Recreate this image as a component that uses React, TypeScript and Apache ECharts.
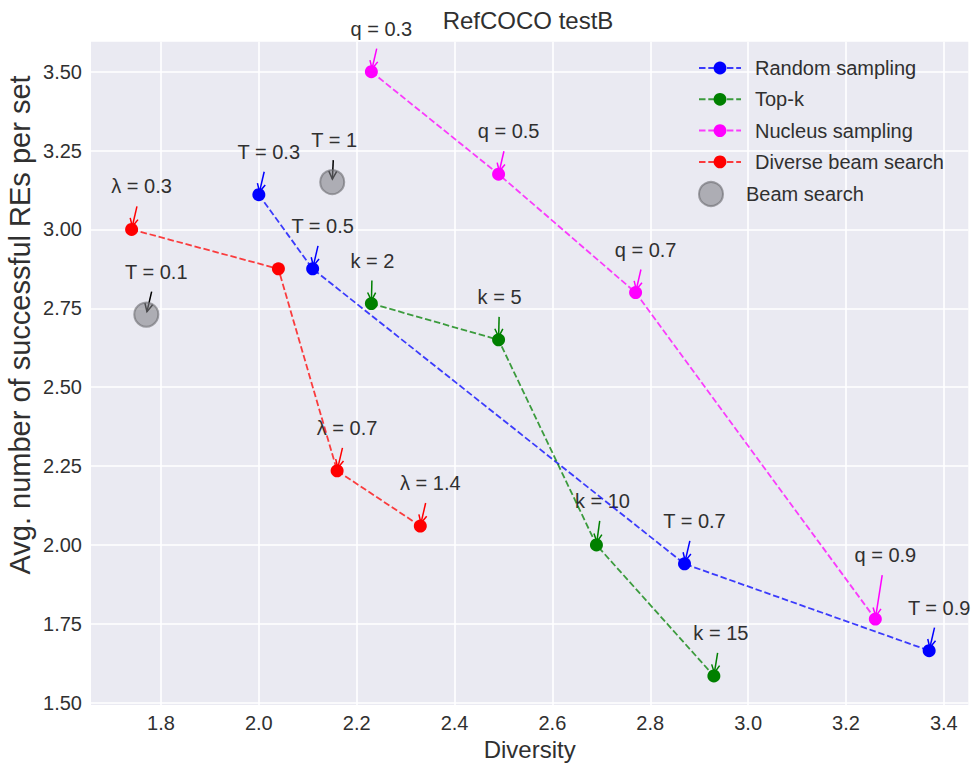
import React, { useEffect, useRef } from 'react';
import * as echarts from 'echarts';

// ---- data ----
const xTicks = [1.8, 2.0, 2.2, 2.4, 2.6, 2.8, 3.0, 3.2, 3.4];
const yTicks = [1.5, 1.75, 2.0, 2.25, 2.5, 2.75, 3.0, 3.25, 3.5];

const randomX = [2.0, 2.11, 2.87, 3.37];
const randomY = [3.11, 2.875, 1.94, 1.665];
const randomLabels = ['T = 0.3', 'T = 0.5', 'T = 0.7', 'T = 0.9'];

const topkX = [2.23, 2.49, 2.69, 2.93];
const topkY = [2.765, 2.65, 2.0, 1.585];
const topkLabels = ['k = 2', 'k = 5', 'k = 10', 'k = 15'];

const nucleusX = [2.23, 2.49, 2.77, 3.26];
const nucleusY = [3.5, 3.175, 2.8, 1.765];
const nucleusLabels = ['q = 0.3', 'q = 0.5', 'q = 0.7', 'q = 0.9'];

const dbsX = [1.74, 2.04, 2.16, 2.33];
const dbsY = [3.0, 2.875, 2.235, 2.06];
const dbsLabels = ['λ = 0.3', '', 'λ = 0.7', 'λ = 1.4'];

const beamX = [1.77, 2.15];
const beamY = [2.73, 3.15];
const beamLabels = ['T = 0.1', 'T = 1'];

const FONT = '"Liberation Sans", Arial, sans-serif';
const TEXT = '#303030';

export default function App() {
  const ref = useRef<HTMLDivElement>(null);

  useEffect(() => {
    const chart = echarts.init(ref.current!, null, { renderer: 'svg' });

    const groups = [
      { xs: randomX, ys: randomY, labels: randomLabels, color: '#0000ff' },
      { xs: topkX, ys: topkY, labels: topkLabels, color: '#008000' },
      { xs: nucleusX, ys: nucleusY, labels: nucleusLabels, color: '#ff00ff' },
      { xs: dbsX, ys: dbsY, labels: dbsLabels, color: '#ff0000' },
      { xs: beamX, ys: beamY, labels: beamLabels, color: '#000000' },
    ];
    const annItems: { x: number; y: number; text: string; color: string }[] = [];
    groups.forEach((g) =>
      g.xs.forEach((x, i) => {
        if (g.labels[i]) annItems.push({ x, y: g.ys[i], text: g.labels[i], color: g.color });
      })
    );
    const labelOffsets: Record<string, [number, number]> = {
      'k = 2': [1, -43],
      'k = 5': [1, -43],
      'T = 1': [2, -42],
      'k = 10': [6, -44],
      'k = 15': [7, -43],
      'q = 0.9': [10, -64],
    };

    const lineSeries = (name: string, xs: number[], ys: number[], color: string) => ({
      name,
      type: 'line',
      data: xs.map((x, i) => [x, ys[i]]),
      symbol: 'circle',
      symbolSize: 13,
      z: 4,
      itemStyle: { color, opacity: 1 },
      lineStyle: { color, width: 1.8, type: [6.5, 2.8], opacity: 0.75 },
      emphasis: { disabled: true },
    });

    const legendText = {
      fontSize: 20,
      color: TEXT,
      fontFamily: FONT,
      lineHeight: 20,
      padding: [0, 0, 0, 9],
    };

    const option: any = {
      animation: false,
      textStyle: { fontFamily: FONT },
      title: {
        text: 'RefCOCO testB',
        left: 523,
        top: 3,
        textAlign: 'center',
        textStyle: { fontSize: 24, fontWeight: 'normal', color: TEXT, fontFamily: FONT },
      },
      grid: {
        left: 91,
        right: 8.7,
        top: 41.7,
        bottom: 59,
        show: true,
        backgroundColor: '#EAEAF2',
        borderWidth: 0,
        containLabel: false,
        outerBoundsMode: 'none',
      },
      xAxis: {
        type: 'value',
        min: 1.657,
        max: 3.45,
        name: 'Diversity',
        nameLocation: 'middle',
        nameGap: 26,
        nameTextStyle: { fontSize: 24, color: TEXT, fontFamily: FONT },
        axisLine: { show: false },
        axisTick: { show: false, customValues: xTicks },
        axisLabel: {
          customValues: xTicks,
          formatter: (v: number) => v.toFixed(1),
          fontSize: 20,
          color: TEXT,
          margin: 8,
          fontFamily: FONT,
        },
        splitLine: { show: true, lineStyle: { color: '#ffffff', width: 1.6 } },
      },
      yAxis: {
        type: 'value',
        min: 1.4927,
        max: 3.595,
        axisLine: { show: false },
        axisTick: { show: false, customValues: yTicks },
        axisLabel: {
          customValues: yTicks,
          formatter: (v: number) => v.toFixed(2),
          fontSize: 20,
          color: TEXT,
          margin: 9,
          fontFamily: FONT,
        },
        splitLine: { show: true, lineStyle: { color: '#ffffff', width: 1.6 } },
      },
      legend: [
        {
          data: ['Random sampling', 'Top-k', 'Nucleus sampling', 'Diverse beam search'],
          orient: 'vertical',
          left: 693,
          top: 53,
          itemWidth: 42,
          itemHeight: 16,
          itemGap: 11.3,
          selectedMode: false,
          textStyle: legendText,
        },
        {
          data: ['Beam search'],
          orient: 'vertical',
          left: 693,
          top: 176,
          itemWidth: 42,
          itemHeight: 24,
          selectedMode: false,
          textStyle: legendText,
        },
      ],
      graphic: [
        {
          type: 'text',
          x: 20,
          y: 325,
          rotation: Math.PI / 2,
          style: {
            text: 'Avg. number of successful REs per set',
            align: 'center',
            verticalAlign: 'middle',
            fontSize: 29,
            fill: TEXT,
            fontFamily: FONT,
          },
        },
      ],
      series: [
        {
          name: 'annotations',
          type: 'custom',
          coordinateSystem: 'cartesian2d',
          silent: true,
          z: 2,
          data: annItems.map((a, i) => [a.x, a.y, i]),
          encode: { x: 0, y: 1 },
          renderItem: (params: any, api: any) => {
            const a = annItems[api.value(2)];
            const p = api.coord([api.value(0), api.value(1)]);
            const off = labelOffsets[a.text] || [10, -43];
            const cx = p[0] + off[0];
            const cy = p[1] + off[1];
            const vx = p[0] - cx;
            const vy = p[1] - cy;
            const len = Math.hypot(vx, vy);
            const ux = vx / len;
            const uy = vy / len;
            const t = 20 / uy;
            const sx = cx + ux * t;
            const sy = cy + uy * t;
            const ex = p[0] - ux * 3;
            const ey = p[1] - uy * 3;
            const hl = 8;
            const hw = 4;
            const bx = ex - ux * hl;
            const by = ey - uy * hl;
            const px = -uy;
            const py = ux;
            return {
              type: 'group',
              children: [
                {
                  type: 'text',
                  style: {
                    x: cx,
                    y: cy,
                    text: a.text,
                    align: 'center',
                    verticalAlign: 'middle',
                    fontSize: 20,
                    fontFamily: FONT,
                    fill: TEXT,
                  },
                },
                {
                  type: 'line',
                  shape: { x1: sx, y1: sy, x2: ex, y2: ey },
                  style: { stroke: a.color, lineWidth: 1.5 },
                },
                {
                  type: 'polyline',
                  shape: {
                    points: [
                      [bx + px * hw, by + py * hw],
                      [ex, ey],
                      [bx - px * hw, by - py * hw],
                    ],
                  },
                  style: { stroke: a.color, fill: 'none', lineWidth: 1.5 },
                },
              ],
            };
          },
        },
        lineSeries('Random sampling', randomX, randomY, '#0000ff'),
        lineSeries('Top-k', topkX, topkY, '#008000'),
        lineSeries('Nucleus sampling', nucleusX, nucleusY, '#ff00ff'),
        lineSeries('Diverse beam search', dbsX, dbsY, '#ff0000'),
        {
          name: 'Beam search',
          type: 'scatter',
          data: beamX.map((x, i) => [x, beamY[i]]),
          symbol: 'circle',
          symbolSize: 24,
          z: 4,
          itemStyle: {
            color: 'rgba(128,128,133,0.72)',
            borderColor: 'rgba(105,105,110,0.75)',
            borderWidth: 2,
          },
          emphasis: { disabled: true },
        },
      ],
    };

    chart.setOption(option);
    return () => chart.dispose();
  }, []);

  return (
    <div
      ref={ref}
      style={{ position: 'fixed', left: 0, top: 0, width: 977, height: 764, background: '#ffffff' }}
    />
  );
}
